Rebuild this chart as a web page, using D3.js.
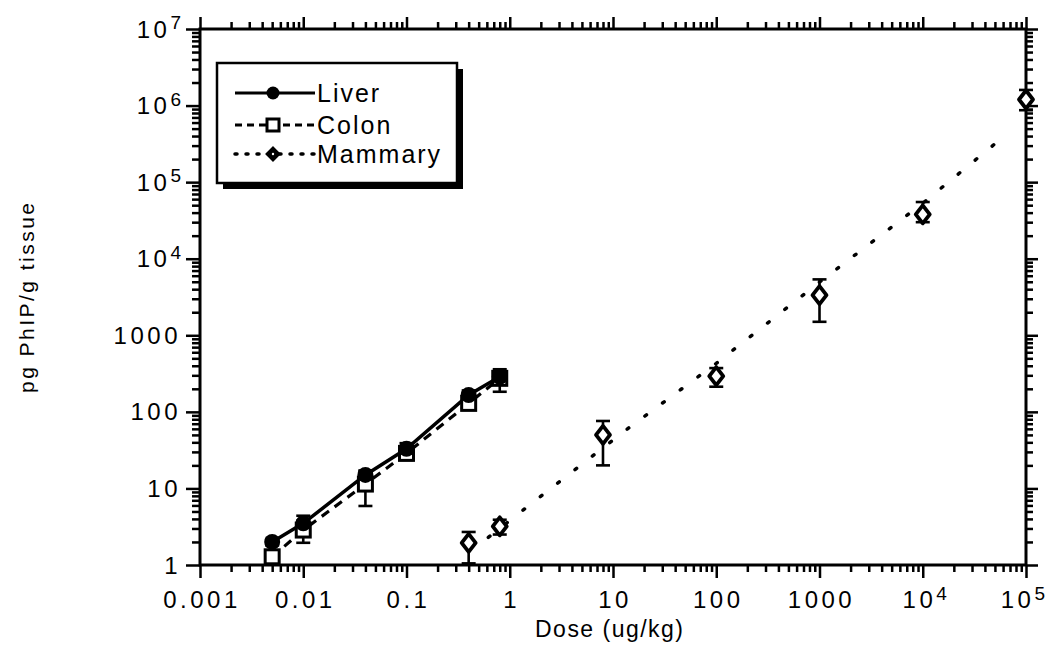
<!DOCTYPE html>
<html>
<head>
<meta charset="utf-8">
<script src="https://cdn.jsdelivr.net/npm/d3@7"></script>
<style>
  html, body { margin: 0; padding: 0; background: #fff; }
  svg { display: block; font-family: "Liberation Sans", Arial, Helvetica, sans-serif; }
</style>
</head>
<body>
<svg id="chart" width="1047" height="654"></svg>
<script>
// PhIP tissue levels vs. dose (log-log)
const seriesNames = ["Liver", "Colon", "Mammary"];

const doses = [0.005, 0.01, 0.04, 0.1, 0.4, 0.8];
const liverMean = [2.0, 3.5, 15, 33, 166, 287];
const liverLo   = [1.8, 2.9, 13, 28, 145, 240];
const liverHi   = [2.2, 4.4, 17, 39, 190, 340];

const colonMean = [1.28, 2.86, 11.4, 28.7, 129, 274];
const colonLo   = [1.1, 1.95, 5.9, 23.5, 110, 183];
const colonHi   = [1.5, 3.8, 17, 34, 150, 360];

const mammaryDose = [0.4, 0.8, 8, 100, 1000, 10000, 100000];
const mammaryMean = [1.95, 3.2, 50, 293, 3350, 38000, 1200000];
const mammaryLo   = [1.05, 2.5, 20, 213, 1500, 30000, 870000];
const mammaryHi   = [2.7, 3.9, 76, 373, 5370, 55000, 1600000];

// regression curve for mammary tissue
const mammaryFitDose = [0.62, 6.2, 13.6, 100, 1000, 10000, 63000];
const mammaryFitVal  = [2.3, 26, 59, 430, 4950, 53000, 410000];

const xTickValues = [0.001, 0.01, 0.1, 1, 10, 100, 1000, 1e4, 1e5];
const xTickLabels = ["0.001", "0.01", "0.1", "1", "10", "100", "1000", "10^4", "10^5"];
const yTickValues = [1, 10, 100, 1000, 1e4, 1e5, 1e6, 1e7];
const yTickLabels = ["1", "10", "100", "1000", "10^4", "10^5", "10^6", "10^7"];

const xTitle = "Dose (ug/kg)";
const yTitle = "pg PhIP/g tissue";

const W = 1047;
const svg = d3.select("#chart");

const x = d3.scaleLog().domain([0.001, 1e5]).range([200, 1026]);
const y = d3.scaleLog().domain([1, 1e7]).range([565, 29]);

const [x0, x1] = x.range();
const [y0, y1] = y.range();

// minor ticks 2..9 within each decade
function minorTicks(values) {
  const out = [];
  for (let i = 0; i < values.length - 1; i++) {
    for (let k = 2; k <= 9; k++) out.push(values[i] * k);
  }
  return out;
}
const xMinor = minorTicks(xTickValues);
const yMinor = minorTicks(yTickValues);

function drawAxis(gen, tx, ty, vals, size) {
  const g = svg.append("g")
    .attr("transform", `translate(${tx},${ty})`)
    .call(gen.tickValues(vals).tickSize(size).tickFormat(""));
  g.select(".domain").remove();
  g.selectAll(".tick line").attr("stroke", "#000").attr("stroke-width", 2.5);
  g.selectAll(".tick text").remove();
  return g;
}

// ticks on all four sides, pointing outward
drawAxis(d3.axisBottom(x), 0, y0, xTickValues, 13);
drawAxis(d3.axisBottom(x), 0, y0, xMinor, 7);
drawAxis(d3.axisTop(x), 0, y1, xTickValues, 12);
drawAxis(d3.axisTop(x), 0, y1, xMinor, 7);
drawAxis(d3.axisLeft(y), x0, 0, yTickValues, 14);
drawAxis(d3.axisLeft(y), x0, 0, yMinor, 8);
drawAxis(d3.axisRight(y), x1, 0, yTickValues, 12);
drawAxis(d3.axisRight(y), x1, 0, yMinor, 7);

// frame lines
svg.append("rect")
  .attr("x", x0).attr("y", y1)
  .attr("width", x1 - x0).attr("height", y0 - y1)
  .attr("fill", "none").attr("stroke", "#000").attr("stroke-width", 3);

// tick labels, "a^b" drawn with a superscript
function addLabel(sel, label) {
  const parts = label.split("^");
  sel.append("tspan").text(parts[0]);
  if (parts.length > 1) {
    sel.append("tspan").attr("font-size", 19).attr("dy", -8.5)
      .attr("letter-spacing", 0).text(parts[1]);
  }
}

xTickValues.forEach((v, i) => {
  const t = svg.append("text")
    .attr("x", x(v) + 2).attr("y", 608)
    .attr("text-anchor", "middle")
    .attr("font-size", 24)
    .attr("letter-spacing", 3.5)
    .attr("fill", "#000");
  addLabel(t, xTickLabels[i]);
  // keep the last label inside the page
  const bb = t.node().getBBox();
  if (bb.x + bb.width > W - 2) {
    t.attr("x", x(v) + 2 - (bb.x + bb.width - (W - 2)));
  }
});

yTickValues.forEach((v, i) => {
  const t = svg.append("text")
    .attr("x", 181).attr("y", y(v) + 8.5)
    .attr("text-anchor", "end")
    .attr("font-size", 24)
    .attr("letter-spacing", 3.5)
    .attr("fill", "#000");
  addLabel(t, yTickLabels[i]);
});

// axis titles
svg.append("text")
  .attr("x", 609).attr("y", 637)
  .attr("text-anchor", "middle")
  .attr("font-size", 23)
  .attr("textLength", 148).attr("lengthAdjust", "spacing")
  .text(xTitle);

svg.append("text")
  .attr("transform", "translate(34,298) rotate(-90)")
  .attr("text-anchor", "middle")
  .attr("font-size", 21)
  .attr("textLength", 190).attr("lengthAdjust", "spacing")
  .text(yTitle);

const line = d3.line().x(d => x(d[0])).y(d => y(d[1]));
const plot = svg.append("g");

// connecting lines
plot.append("path")
  .datum(d3.zip(doses, colonMean))
  .attr("d", line).attr("fill", "none")
  .attr("stroke", "#000").attr("stroke-width", 3.2)
  .attr("stroke-dasharray", "9,7");

plot.append("path")
  .datum(d3.zip(doses, liverMean))
  .attr("d", line).attr("fill", "none")
  .attr("stroke", "#000").attr("stroke-width", 3.5);

plot.append("path")
  .datum(d3.zip(mammaryFitDose, mammaryFitVal))
  .attr("d", line).attr("fill", "none")
  .attr("stroke", "#000").attr("stroke-width", 3.5)
  .attr("stroke-linecap", "round")
  .attr("stroke-dasharray", "2,20");

// error bars
function errorBars(xs, lo, hi) {
  const g = plot.append("g").attr("stroke", "#000").attr("stroke-width", 2.6);
  xs.forEach((d, i) => {
    const cx = x(d);
    g.append("line").attr("x1", cx).attr("x2", cx).attr("y1", y(lo[i])).attr("y2", y(hi[i]));
    g.append("line").attr("x1", cx - 7).attr("x2", cx + 7).attr("y1", y(lo[i])).attr("y2", y(lo[i]));
    g.append("line").attr("x1", cx - 7).attr("x2", cx + 7).attr("y1", y(hi[i])).attr("y2", y(hi[i]));
  });
}
errorBars(doses, colonLo, colonHi);
errorBars(doses, liverLo, liverHi);
errorBars(mammaryDose, mammaryLo, mammaryHi);

// markers
const diamondPath = (hw, hh) => `M0,${-hh}L${hw},0L0,${hh}L${-hw},0Z`;

plot.append("g").selectAll("rect")
  .data(d3.zip(doses, colonMean)).join("rect")
  .attr("x", d => x(d[0]) - 7).attr("y", d => y(d[1]) - 7)
  .attr("width", 14).attr("height", 14)
  .attr("fill", "#fff").attr("stroke", "#000").attr("stroke-width", 3);

plot.append("g").selectAll("circle")
  .data(d3.zip(doses, liverMean)).join("circle")
  .attr("cx", d => x(d[0])).attr("cy", d => y(d[1]))
  .attr("r", 8).attr("fill", "#000");

plot.append("g").selectAll("path")
  .data(d3.zip(mammaryDose, mammaryMean)).join("path")
  .attr("transform", d => `translate(${x(d[0])},${y(d[1])})`)
  .attr("d", diamondPath(7, 9))
  .attr("fill", "#fff").attr("stroke", "#000").attr("stroke-width", 3.8)
  .attr("stroke-linejoin", "round");

// legend
const legend = svg.append("g").attr("transform", "translate(217,63)");
legend.append("rect").attr("x", 6).attr("y", 6).attr("width", 240).attr("height", 120).attr("fill", "#000");
legend.append("rect").attr("x", 0).attr("y", 0).attr("width", 240).attr("height", 120)
  .attr("fill", "#fff").attr("stroke", "#000").attr("stroke-width", 2.5);

const rowY = [30, 62, 91];
const lineStyles = [
  { dash: null, width: 3 },
  { dash: "7,5", width: 3 },
  { dash: "2,9", width: 3.5 }
];
seriesNames.forEach((name, i) => {
  const ry = rowY[i];
  legend.append("line")
    .attr("x1", 18).attr("x2", 98).attr("y1", ry).attr("y2", ry)
    .attr("stroke", "#000").attr("stroke-width", lineStyles[i].width)
    .attr("stroke-linecap", i === 2 ? "round" : "butt")
    .attr("stroke-dasharray", lineStyles[i].dash);
  if (i === 0) {
    legend.append("circle").attr("cx", 56).attr("cy", ry).attr("r", 6.5).attr("fill", "#000");
  } else if (i === 1) {
    legend.append("rect").attr("x", 50).attr("y", ry - 6).attr("width", 12).attr("height", 12)
      .attr("fill", "#fff").attr("stroke", "#000").attr("stroke-width", 3);
  } else {
    legend.append("path").attr("transform", `translate(56,${ry})`).attr("d", diamondPath(6.5, 6.5))
      .attr("fill", "#000").attr("stroke", "#000").attr("stroke-width", 2);
    legend.append("circle").attr("cx", 56).attr("cy", ry).attr("r", 1.2).attr("fill", "#fff");
  }
  legend.append("text")
    .attr("x", 100).attr("y", ry + 9)
    .attr("font-size", 25)
    .attr("letter-spacing", 2)
    .attr("fill", "#000")
    .text(name);
});
</script>
</body>
</html>
